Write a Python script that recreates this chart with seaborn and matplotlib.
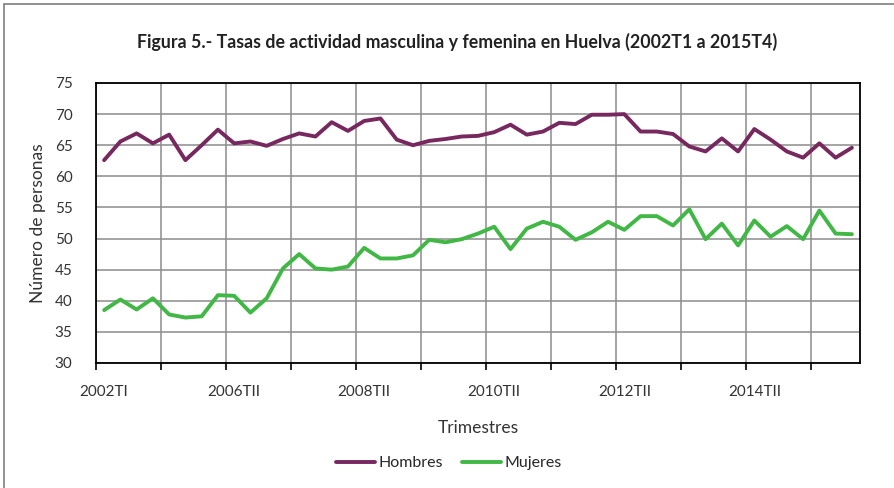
import matplotlib
matplotlib.use("Agg")
import matplotlib.pyplot as plt
import seaborn as sns
import pandas as pd
import numpy as np
from matplotlib.patches import Rectangle

# ---- data ----
periodos = (["2002TI", "2002TIII", "2003TI", "2003TIII", "2004TI", "2004TIII", "2005TI", "2005TIII"] +
            [f"{y}T{q}" for y in range(2006, 2016) for q in ["I", "II", "III", "IV"]][1:])
hombres = [62.6, 65.6, 66.9, 65.3, 66.7, 62.6, 65.0, 67.5, 65.3, 65.6, 64.9, 66.0,
           66.9, 66.4, 68.7, 67.3, 68.9, 69.3, 65.9, 65.0, 65.7, 66.0, 66.4, 66.5,
           67.1, 68.3, 66.7, 67.2, 68.6, 68.4, 69.9, 69.9, 70.0, 67.2, 67.2, 66.8,
           64.8, 64.0, 66.1, 64.0, 67.6, 65.9, 64.0, 63.0, 65.3, 63.0, 64.6]
mujeres = [38.5, 40.2, 38.6, 40.4, 37.8, 37.3, 37.5, 40.9, 40.8, 38.1, 40.4, 45.2,
           47.5, 45.2, 45.0, 45.5, 48.5, 46.8, 46.8, 47.3, 49.8, 49.4, 49.9, 50.8,
           51.9, 48.3, 51.6, 52.7, 51.9, 49.8, 51.0, 52.7, 51.4, 53.6, 53.6, 52.1,
           54.7, 49.9, 52.4, 48.9, 52.9, 50.3, 52.0, 49.9, 54.5, 50.8, 50.7]
series = ["Hombres", "Mujeres"]
colores = ["#76285f", "#41b745"]
yticks = [30, 35, 40, 45, 50, 55, 60, 65, 70, 75]

df = pd.DataFrame({"periodo": periodos * 2,
                   "idx": list(range(len(periodos))) * 2,
                   "valor": hombres + mujeres,
                   "serie": [series[0]] * len(periodos) + [series[1]] * len(periodos)})

sns.set_theme(style="white")
plt.rcParams["font.family"] = ["Lato", "DejaVu Sans"]

fig = plt.figure(figsize=(8.94, 4.88), dpi=100)
ax = fig.add_axes([96 / 894, 1 - 363 / 488, 764 / 894, 280 / 488])

n = len(periodos)
for x in range(0, n, 4):
    ax.axvline(x - 0.5, color="#8c8c8c", lw=1.1, zorder=0)
for y in yticks:
    ax.axhline(y, color="#8c8c8c", lw=1.1, zorder=0)

sns.lineplot(data=df, x="idx", y="valor", hue="serie", palette=colores,
             linewidth=2.8, ax=ax, legend=True)

ax.set_xlim(-0.5, n - 0.5)
ax.set_ylim(30, 75)
ax.set_yticks(yticks)
ax.set_yticklabels([str(v) for v in yticks], fontsize=11, color="#333333")
ax.set_xticks([x - 0.5 for x in range(0, n, 4)], minor=False)
ax.set_xticklabels([])
ax.set_xticks(list(range(0, n, 8)), minor=True)
ax.set_xticklabels([periodos[i] for i in range(0, n, 8)], minor=True, fontsize=11, color="#333333")
ax.tick_params(axis="x", which="major", direction="out", length=5, width=1.2, color="black", bottom=True)
ax.tick_params(axis="x", which="minor", length=0, pad=16)
ax.tick_params(axis="y", length=0, pad=17)
for s in ax.spines.values():
    s.set_color("black")
    s.set_linewidth(1.3)

ax.set_xlabel("Trimestres", fontsize=12.5, color="#333333", labelpad=15)
ax.set_ylabel("Número de personas", fontsize=12.5, color="#333333", labelpad=6)

fig.text(457 / 894, 1 - 42 / 488,
         "Figura 5.- Tasas de actividad masculina y femenina en Huelva (2002T1 a 2015T4)",
         ha="center", va="center", fontsize=12.8, fontweight="bold", color="#222222")

h, l = ax.get_legend_handles_labels()
ax.legend(h, l, loc="center", bbox_to_anchor=(449 / 894, 1 - 463 / 488),
          bbox_transform=fig.transFigure, ncol=2, frameon=False, fontsize=11.5,
          handlelength=2.4, handletextpad=0.25, columnspacing=1.2)

fig.patches.append(Rectangle((4 / 894, -0.1), 1.2, 1 - 4 / 488 + 0.1, transform=fig.transFigure,
                             fill=False, edgecolor="#7f7f7f", lw=1.2))

fig.savefig("out.png", dpi=100)
